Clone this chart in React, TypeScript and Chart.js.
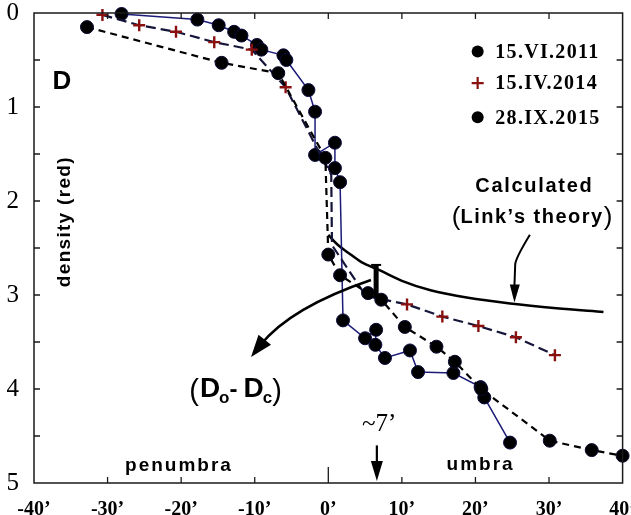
import React, { useEffect, useRef } from 'react';
import { Chart, registerables } from 'chart.js';
Chart.register(...registerables);

const xTickValues = [-40, -30, -20, -10, 0, 10, 20, 30, 40];
const yTickValues = [0, 1, 2, 3, 4, 5];

const seriesLabels = ['15.VI.2011', '15.IV.2014', '28.IX.2015'];

// 15.VI.2011 (dots, dashed line)
const s2011X = [-32.8, -14.5, -6.8, -0.4, 0.0, 1.6, 5.4, 7.2, 10.4, 14.7, 17.2, 20.8, 30.1, 35.8, 40.0];
const s2011D = [0.15, 0.53, 0.64, 1.54, 2.57, 2.79, 2.98, 3.05, 3.34, 3.55, 3.71, 4.0, 4.55, 4.65, 4.71];

// 15.IV.2014 (crosses, long-dash line)
const s2014X = [-30.7, -25.7, -20.7, -15.5, -10.4, -5.8, -1.4, 0.4, 0.5, 5.1, 10.7, 15.5, 20.4, 25.5, 30.8];
const s2014D = [0.02, 0.13, 0.20, 0.31, 0.39, 0.79, 1.46, 1.72, 2.47, 3.01, 3.10, 3.23, 3.33, 3.45, 3.64];
const s2014LineOnly = [6, 7, 8, 9];

// 28.IX.2015 (dots, thin solid line)
const s2015X = [-28.1, -17.8, -14.9, -12.8, -11.8, -9.7, -9.1, -6.1, -5.7, -2.7, -1.8, -1.8, 0.9, 0.9, 1.6, 2.0, 5.0, 6.5, 6.4, 7.7, 11.1, 12.2, 17.0, 20.7, 21.2, 24.7];
const s2015D = [0.01, 0.07, 0.13, 0.20, 0.24, 0.34, 0.39, 0.45, 0.50, 0.82, 1.05, 1.51, 1.38, 1.65, 1.80, 3.27, 3.46, 3.37, 3.53, 3.67, 3.59, 3.82, 3.83, 3.98, 4.09, 4.57];

// Calculated (Link's theory)
const calcX = [0, 1.2, 2.7, 4.5, 6.8, 10, 13.9, 19, 24.7, 31, 37.4];
const calcD = [2.36, 2.46, 2.55, 2.65, 2.73, 2.85, 2.95, 3.03, 3.09, 3.14, 3.18];

// (Do - Dc) difference bar at ~7'
const diffX = 6.5;
const diffTop = 2.68;
const diffBottom = 3.03;

const SANS = '"Liberation Sans", Arial, sans-serif';
const SERIF = '"Liberation Serif", "Times New Roman", serif';

const toPts = (xs: number[], ds: number[]) => xs.map((x, i) => ({ x, y: ds[i] }));

const annotations = {
  id: 'annotations',
  afterDatasetsDraw(chart: any) {
    const ctx = chart.ctx as CanvasRenderingContext2D;
    const xs = chart.scales.x;
    const ys = chart.scales.y;
    const P = (x: number, d: number): [number, number] => [xs.getPixelForValue(x), ys.getPixelForValue(d)];
    const area = chart.chartArea;
    ctx.save();

    // frame
    ctx.strokeStyle = '#1a1a1a';
    ctx.lineWidth = 1.5;
    ctx.strokeRect(area.left, area.top, area.right - area.left, area.bottom - area.top);

    // inner ticks
    ctx.lineWidth = 1.3;
    ctx.beginPath();
    for (let d = 0.5; d < 5; d += 0.5) {
      const y = ys.getPixelForValue(d);
      ctx.moveTo(area.left, y); ctx.lineTo(area.left + 6, y);
      ctx.moveTo(area.right, y); ctx.lineTo(area.right - 6, y);
    }
    for (const v of xTickValues) {
      if (v === -40 || v === 40) continue;
      const x = xs.getPixelForValue(v);
      ctx.moveTo(x, area.top); ctx.lineTo(x, area.top + 6);
      ctx.moveTo(x, area.bottom); ctx.lineTo(x, area.bottom - (v === 0 ? 16 : 6));
    }
    ctx.stroke();

    const text = (s: string, x: number, y: number, font: string, align: CanvasTextAlign = 'center', spacing = 0, color = '#000') => {
      ctx.font = font;
      (ctx as any).letterSpacing = spacing + 'px';
      ctx.fillStyle = color;
      ctx.textAlign = align;
      ctx.textBaseline = 'middle';
      ctx.fillText(s, x, y);
      (ctx as any).letterSpacing = '0px';
    };

    // panel letter
    let p = P(-36.2, 0.73);
    text('D', p[0], p[1], `bold 26px ${SANS}`);

    // y title
    p = P(-35.8, 2.22);
    ctx.save();
    ctx.translate(p[0], p[1]);
    ctx.rotate(-Math.PI / 2);
    text('density (red)', 0, 0, `bold 19px ${SANS}`, 'center', 1.3);
    ctx.restore();

    // region labels
    p = P(-20.3, 4.82);
    text('penumbra', p[0], p[1], `bold 19px ${SANS}`, 'center', 2);
    p = P(20.7, 4.81);
    text('umbra', p[0], p[1], `bold 19px ${SANS}`, 'center', 2);

    // calculated labels
    p = P(28.0, 1.85);
    text('Calculated', p[0], p[1], `bold 20px ${SANS}`, 'center', 1.7);
    p = P(27.7, 2.18);
    ctx.save();
    ctx.font = `bold 20px ${SANS}`;
    (ctx as any).letterSpacing = '1.5px';
    const inner = 'Link’s theory';
    const wInner = ctx.measureText(inner).width;
    (ctx as any).letterSpacing = '0px';
    ctx.font = `26px ${SANS}`;
    const wPar = ctx.measureText('(').width;
    const total = wInner + 2 * wPar;
    const cx = p[0] - total / 2;
    text('(', cx, p[1], `26px ${SANS}`, 'left');
    text(inner, cx + wPar, p[1], `bold 20px ${SANS}`, 'left', 1.5);
    text(')', cx + wPar + wInner, p[1], `26px ${SANS}`, 'left');
    ctx.restore();

    const arrowHead = (tip: [number, number], from: [number, number], len: number, half: number) => {
      const dx = tip[0] - from[0], dy = tip[1] - from[1];
      const L = Math.hypot(dx, dy);
      const ux = dx / L, uy = dy / L;
      const bx = tip[0] - ux * len, by = tip[1] - uy * len;
      ctx.beginPath();
      ctx.moveTo(tip[0], tip[1]);
      ctx.lineTo(bx - uy * half, by + ux * half);
      ctx.lineTo(bx + uy * half, by - ux * half);
      ctx.closePath();
      ctx.fillStyle = '#000';
      ctx.fill();
    };

    // arrow to calculated curve
    ctx.strokeStyle = '#000';
    ctx.lineWidth = 2;
    const a0 = P(27.4, 2.36), a1 = P(25.4, 2.68), a2 = P(25.3, 2.9), aTip = P(25.3, 3.08);
    ctx.beginPath();
    ctx.moveTo(a0[0], a0[1]);
    ctx.quadraticCurveTo(a1[0], a1[1] - 6, a1[0], a1[1]);
    ctx.lineTo(a2[0], a2[1]);
    ctx.stroke();
    arrowHead(aTip, a1, 18, 5);

    // ~7' arrow
    const b0 = P(6.6, 4.6), bTip = P(6.6, 4.98);
    ctx.lineWidth = 2.2;
    ctx.beginPath();
    ctx.moveTo(b0[0], b0[1]);
    ctx.lineTo(bTip[0], bTip[1] - 10);
    ctx.stroke();
    arrowHead(bTip, b0, 20, 6);
    p = P(6.9, 4.38);
    text('~7’', p[0], p[1], `25px ${SERIF}`);

    // difference bar
    const t = P(diffX, diffTop), bt = P(diffX, diffBottom);
    ctx.lineWidth = 5;
    ctx.beginPath();
    ctx.moveTo(t[0], t[1]); ctx.lineTo(bt[0], bt[1]);
    ctx.stroke();
    ctx.lineWidth = 2;
    ctx.beginPath();
    ctx.moveTo(t[0] - 5, t[1]); ctx.lineTo(t[0] + 5, t[1]);
    ctx.stroke();

    // curved arrow to (Do - Dc)
    const c0 = P(5.8, 2.84), cC = P(-5.1, 3.13), c2 = P(-9.2, 3.53), cTip = P(-10.5, 3.66);
    ctx.lineWidth = 2.5;
    ctx.beginPath();
    ctx.moveTo(c0[0], c0[1]);
    ctx.quadraticCurveTo(cC[0], cC[1], c2[0], c2[1]);
    ctx.stroke();
    arrowHead(cTip, cC, 22, 8);

    // (Do- Dc)
    p = P(-18.9, 4.08);
    let x = p[0];
    const base = p[1];
    const piece = (s: string, font: string, dy: number, gap = 0) => {
      ctx.font = font;
      ctx.fillStyle = '#000';
      ctx.textAlign = 'left';
      ctx.textBaseline = 'alphabetic';
      ctx.fillText(s, x, base + dy);
      x += ctx.measureText(s).width + gap;
    };
    piece('(', `29px ${SANS}`, 3, 1);
    piece('D', `bold 28px ${SANS}`, 0, -1);
    piece('o', `bold 17px ${SANS}`, 6, 0);
    piece('-', `bold 24px ${SANS}`, 0, 6);
    piece('D', `bold 28px ${SANS}`, 0, -1);
    piece('c', `bold 17px ${SANS}`, 6, 0);
    piece(')', `29px ${SANS}`, 3);

    // legend
    const legendRows = [0.41, 0.745, 1.11];
    chart.data.datasets.slice(0, 3).forEach((ds: any, i: number) => {
      const m = P(20.3, legendRows[i]);
      if (ds.pointStyle === 'cross') {
        ctx.strokeStyle = ds.pointBorderColor;
        ctx.lineWidth = 2.2;
        ctx.beginPath();
        ctx.moveTo(m[0] - 6, m[1]); ctx.lineTo(m[0] + 6, m[1]);
        ctx.moveTo(m[0], m[1] - 6); ctx.lineTo(m[0], m[1] + 6);
        ctx.stroke();
      } else {
        ctx.fillStyle = '#000';
        ctx.beginPath();
        ctx.arc(m[0], m[1], 6, 0, Math.PI * 2);
        ctx.fill();
      }
      const tp = P(22.7, legendRows[i]);
      text(ds.label, tp[0], tp[1] + 1, `bold 20px ${SERIF}`, 'left', 1.3);
    });

    ctx.restore();
  },
};

export default function App() {
  const ref = useRef<HTMLCanvasElement>(null);
  useEffect(() => {
    if (!ref.current) return;
    const chart = new Chart(ref.current, {
      type: 'scatter',
      data: {
        datasets: [
          {
            label: seriesLabels[0],
            data: toPts(s2011X, s2011D),
            showLine: true,
            borderColor: '#000',
            borderWidth: 2.2,
            borderDash: [7, 5],
            pointStyle: 'circle',
            pointRadius: 6.5,
            pointBackgroundColor: '#000',
            pointBorderColor: '#0a0a30',
            pointBorderWidth: 1,
            clip: false,
          },
          {
            label: seriesLabels[1],
            data: toPts(s2014X, s2014D),
            showLine: true,
            borderColor: '#15153a',
            borderWidth: 2.2,
            borderDash: [10, 5],
            pointStyle: 'cross',
            pointRadius: s2014X.map((_, i) => (s2014LineOnly.includes(i) ? 0 : 6)),
            pointBorderColor: '#8a1010',
            pointBorderWidth: 2.4,
            clip: false,
          },
          {
            label: seriesLabels[2],
            data: toPts(s2015X, s2015D),
            showLine: true,
            borderColor: '#1c1c78',
            borderWidth: 1.5,
            pointStyle: 'circle',
            pointRadius: 6.5,
            pointBackgroundColor: '#000',
            pointBorderColor: '#0a0a40',
            pointBorderWidth: 1,
            clip: false,
          },
          {
            label: 'Calculated (Link’s theory)',
            data: toPts(calcX, calcD),
            showLine: true,
            borderColor: '#000',
            borderWidth: 2.5,
            pointRadius: 0,
            cubicInterpolationMode: 'monotone',
            clip: false,
          },
        ],
      },
      options: {
        animation: false,
        responsive: false,
        maintainAspectRatio: false,
        layout: { padding: { top: 13, right: 5, left: 0, bottom: 0 } },
        plugins: { legend: { display: false }, tooltip: { enabled: false } },
        scales: {
          x: {
            type: 'linear',
            min: -40,
            max: 40,
            grid: { display: false },
            border: { display: false },
            afterBuildTicks: (s: any) => {
              s.ticks = xTickValues.map((v) => ({ value: v }));
            },
            ticks: {
              callback: (v: any) => `${v}’`,
              font: { family: SERIF, size: 20, weight: 'bold' },
              color: '#000',
              padding: 7,
              maxRotation: 0,
              autoSkip: false,
            },
            afterFit: (s: any) => {
              s.height = 32;
              s.paddingLeft = 0;
              s.paddingRight = 0;
            },
          },
          y: {
            type: 'linear',
            reverse: true,
            min: 0,
            max: 5,
            grid: { display: false },
            border: { display: false },
            afterBuildTicks: (s: any) => {
              s.ticks = yTickValues.map((v) => ({ value: v }));
            },
            ticks: {
              font: { family: SERIF, size: 25 },
              color: '#000',
              padding: 7,
              autoSkip: false,
            },
            afterFit: (s: any) => {
              s.width = 34;
              s.paddingTop = 0;
              s.paddingBottom = 0;
            },
          },
        },
      } as any,
      plugins: [annotations],
    });
    return () => chart.destroy();
  }, []);
  return (
    <div style={{ position: 'fixed', left: 0, top: 0, width: 631, height: 515, background: '#fff' }}>
      <canvas ref={ref} width={631} height={515} style={{ display: 'block' }} />
    </div>
  );
}
